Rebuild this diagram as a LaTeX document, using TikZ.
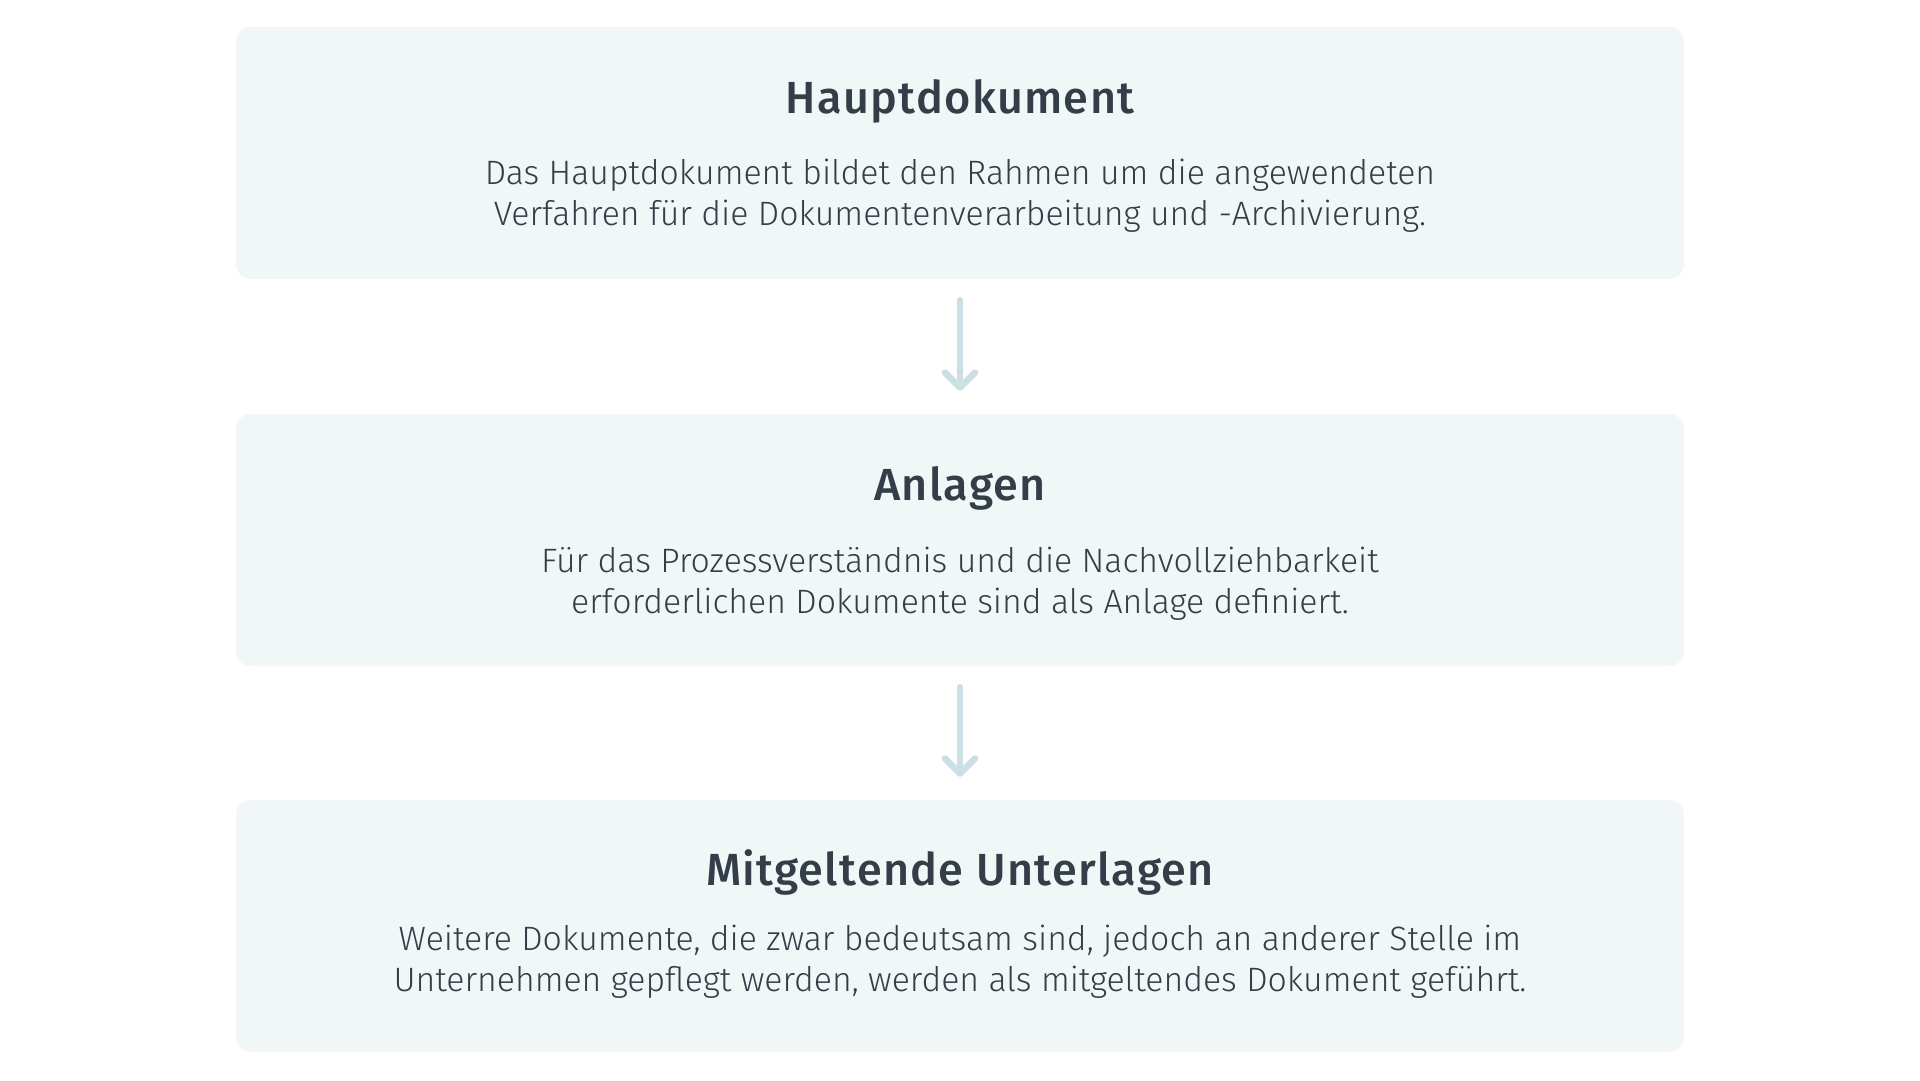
\documentclass[tikz,border=0pt]{standalone}
\usepackage{fontspec}
\setmainfont{Fira Sans Light}
\newfontfamily\titlefont[LetterSpace=3]{Fira Sans Medium}
\usetikzlibrary{arrows.meta}
\definecolor{boxfill}{HTML}{F1F6F7}
\definecolor{txt}{HTML}{343E48}
\definecolor{arr}{HTML}{CCDFE5}
\tikzset{
  panel/.style={fill=boxfill, draw=none, rounded corners=15pt, minimum width=1448pt, minimum height=252pt, inner sep=0pt},
  ttl/.style={anchor=base, text=txt, inner sep=0pt, font=\titlefont\fontsize{45}{50}\selectfont},
  body/.style={anchor=base, text=txt, inner sep=0pt, align=center, font=\fontsize{33.8}{41}\selectfont},
  flow/.style={draw=arr, line width=6.5pt, line cap=round, shorten <=21pt, shorten >=23pt,
    -{Straight Barb[length=15pt, width=30pt, line cap=round, line join=round]}}
}
\begin{document}
\begin{tikzpicture}[x=1pt, y=-1pt]
\useasboundingbox (0,0) rectangle (1920,1080);
\fill[white] (0,0) rectangle (1920,1080);
\node[panel] (b1) at (960,153) {};
\node[panel] (b2) at (960,540) {};
\node[panel] (b3) at (960,926) {};
\node[ttl] (t1) at (960,113) {Hauptdokument};
\node[ttl] (t2) at (960,500) {Anlagen};
\node[ttl] (t3) at (960,885) {Mitgeltende Unterlagen};
\node[body] (d1a) at (960,184) {Das Hauptdokument bildet den Rahmen um die angewendeten};
\node[body] (d1b) at (960,225) {Verfahren für die Dokumentenverarbeitung und -Archivierung.};
\node[body] (d2a) at (960,572) {Für das Prozessverständnis und die Nachvollziehbarkeit};
\node[body] (d2b) at (960,613) {erforderlichen Dokumente sind als Anlage definiert.};
\node[body] (d3a) at (960,950) {Weitere Dokumente, die zwar bedeutsam sind, jedoch an anderer Stelle im};
\node[body] (d3b) at (960,991) {Unternehmen gepflegt werden, werden als mitgeltendes Dokument geführt.};
\draw[flow] (b1.south) -- (b2.north);
\draw[flow] (b2.south) -- (b3.north);
\end{tikzpicture}
\end{document}
